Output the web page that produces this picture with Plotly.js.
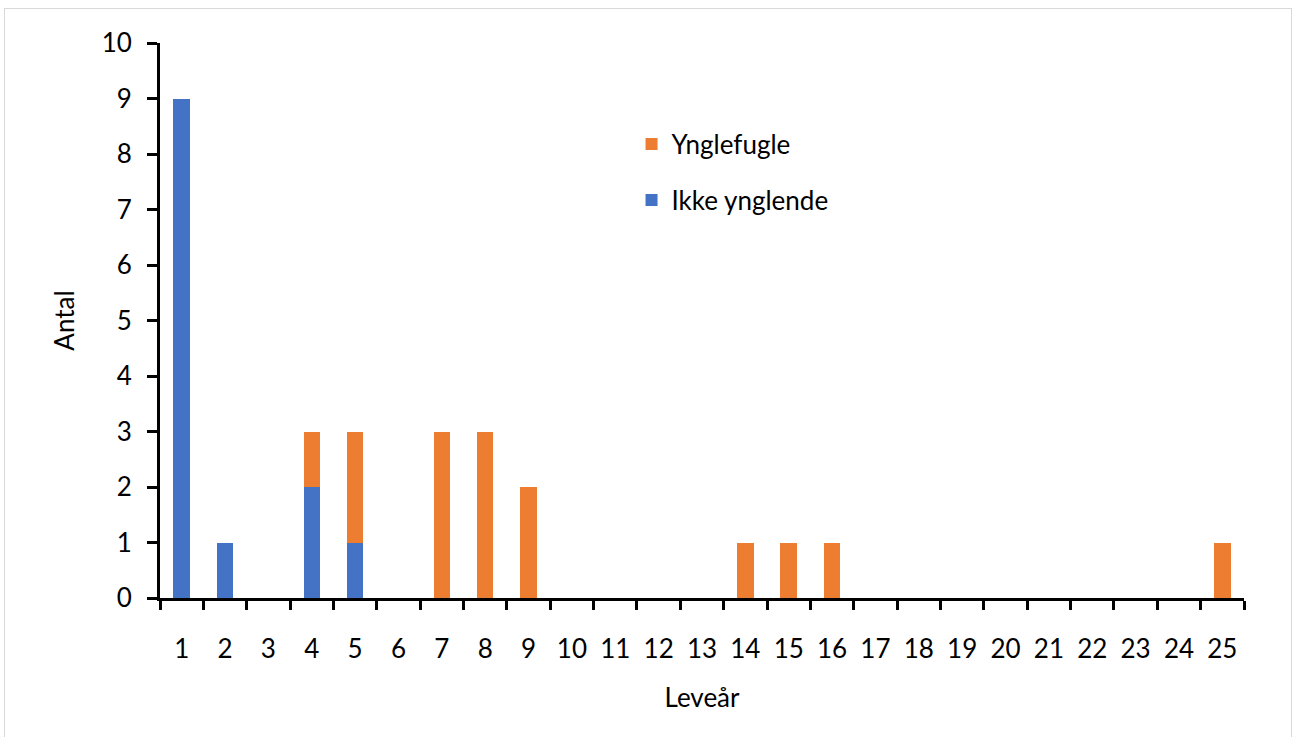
<!DOCTYPE html>
<html>
<head>
<meta charset="utf-8">
<script src="https://cdn.plot.ly/plotly-3.0.1.min.js"></script>
<style>
html,body{margin:0;padding:0;background:#fff;}
#wrap{position:relative;width:1300px;height:737px;}
#frame{position:absolute;left:4px;top:8px;width:1288px;height:730px;border:1px solid #d9d9d9;box-sizing:border-box;pointer-events:none;}
#chart{position:absolute;left:0;top:0;width:1300px;height:737px;}
</style>
</head>
<body>
<div id="wrap"><div id="chart"></div><div id="frame"></div></div>
<script>
const categories = ["1","2","3","4","5","6","7","8","9","10","11","12","13","14","15","16","17","18","19","20","21","22","23","24","25"];
const ikkeYnglende = [9,1,0,2,1,0,0,0,0,0,0,0,0,0,0,0,0,0,0,0,0,0,0,0,0];
const ynglefugle   = [0,0,0,1,2,0,3,3,2,0,0,0,0,1,1,1,0,0,0,0,0,0,0,0,1];
const yTicks = [0,1,2,3,4,5,6,7,8,9,10];

const font = "Lato, 'Open Sans', sans-serif";
const fs = 26;
const traces = [
  {type:'bar', name:'Ikke ynglende', x:categories, y:ikkeYnglende, marker:{color:'#4472C4'}, legendgroup:'b', legendrank:2},
  {type:'bar', name:'Ynglefugle', x:categories, y:ynglefugle, marker:{color:'#ED7D31'}, legendgroup:'a', legendrank:1}
];
const layout = {
  width:1300, height:737,
  paper_bgcolor:'#fff', plot_bgcolor:'#fff',
  margin:{l:160, r:56, t:43, b:139},
  barmode:'stack', bargap:0.62,
  font:{family:font, size:fs, color:'#000'},
  xaxis:{
    type:'category', tickson:'boundaries',
    showline:true, linecolor:'#000', linewidth:3,
    ticks:'outside', ticklen:9, tickwidth:3, tickcolor:'#000',
    ticklabelstandoff:26,
    showgrid:false, zeroline:false,
    tickfont:{family:font, size:fs, color:'#000'},
    title:{text:'Leveår', font:{family:font, size:fs, color:'#000'}, standoff:26}
  },
  yaxis:{
    range:[0,10], tickvals:yTicks, ticktext:yTicks.map(String),
    showline:true, linecolor:'#000', linewidth:3,
    ticks:'outside', ticklen:10, tickwidth:3, tickcolor:'#000',
    ticklabelstandoff:10,
    showgrid:false, zeroline:false,
    tickfont:{family:font, size:fs, color:'#000'},
    title:{text:'Antal', font:{family:font, size:fs, color:'#000'}, standoff:20}
  },
  legend:{
    x:0.435, y:0.86, xanchor:'left', yanchor:'top',
    traceorder:'grouped', tracegroupgap:19,
    itemwidth:30,
    bgcolor:'rgba(0,0,0,0)',
    font:{family:font, size:fs, color:'#000'}
  },
  showlegend:true
};
Plotly.newPlot('chart', traces, layout, {displayModeBar:false, staticPlot:true});
</script>
</body>
</html>
